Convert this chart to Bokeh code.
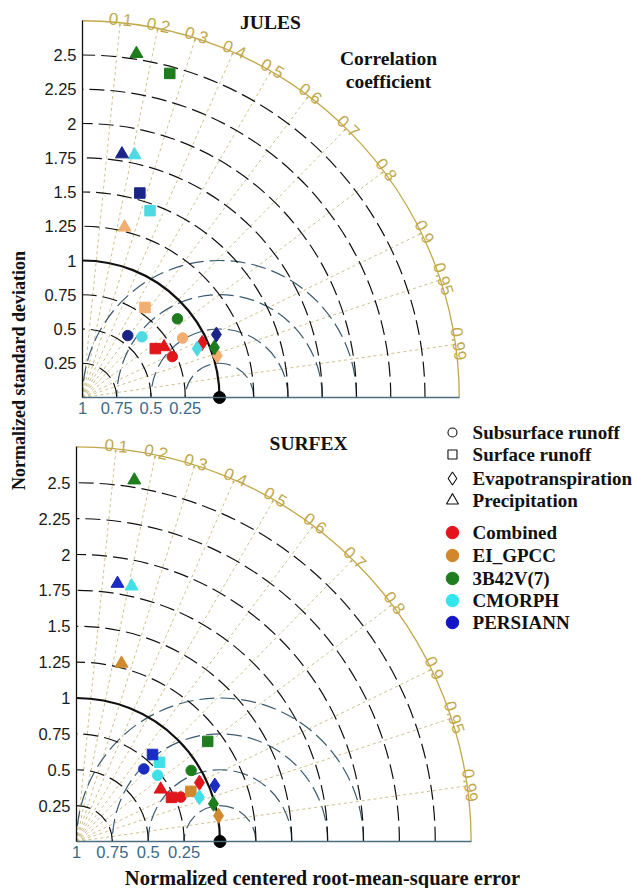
import numpy as np
from bokeh.plotting import figure
from bokeh.layouts import row, column
from bokeh.models import FixedTicker, Range1d, ColumnDataSource
from bokeh.core.properties import value
from bokeh.embed import file_html
from bokeh.resources import INLINE

# ---------------- data ----------------
datasets = ["Combined", "EI_GPCC", "3B42V(7)", "CMORPH", "PERSIANN"]
variables = ["Subsurface runoff", "Surface runoff", "Evapotranspiration", "Precipitation"]
var_markers = ["circle", "square", "diamond", "triangle"]

# JULES: normalized standard deviation and correlation, order = datasets
jules_std_subsurface = [0.72, 0.85, 0.90, 0.62, 0.56]
jules_cor_subsurface = [0.91, 0.86, 0.77, 0.70, 0.59]
jules_std_surface = [0.64, 0.80, 2.45, 1.45, 1.55]
jules_cor_surface = [0.83, 0.57, 0.26, 0.34, 0.27]
jules_std_evapo = [0.96, 1.03, 1.03, 0.91, 1.08]
jules_cor_evapo = [0.91, 0.955, 0.935, 0.92, 0.905]
jules_std_precip = [0.70, 1.28, 2.54, 1.81, 1.80]
jules_cor_precip = [0.85, 0.24, 0.155, 0.21, 0.16]

# SURFEX
surfex_std_subsurface = [0.79, float("nan"), 0.94, 0.73, 0.69]
surfex_cor_subsurface = [0.92, float("nan"), 0.85, 0.775, 0.68]
surfex_std_surface = [0.73, 0.87, 1.15, 0.80, 0.805]
surfex_cor_surface = [0.907, 0.916, 0.795, 0.724, 0.658]
surfex_std_evapo = [0.95, 1.006, 0.99, 0.91, 1.04]
surfex_cor_evapo = [0.902, 0.984, 0.964, 0.941, 0.927]
surfex_std_precip = [0.69, 1.28, 2.55, 1.82, 1.82]
surfex_cor_precip = [0.85, 0.245, 0.158, 0.211, 0.157]

ref_std = [1.0]
ref_cor = [1.0]

cor_ticks = [0.1, 0.2, 0.3, 0.4, 0.5, 0.6, 0.7, 0.8, 0.9, 0.95, 0.99]
cor_tick_labels = ["0.1", "0.2", "0.3", "0.4", "0.5", "0.6", "0.7", "0.8", "0.9", "0.95", "0.99"]
std_arcs = [0.25, 0.5, 0.75, 1.25, 1.5, 1.75, 2.0, 2.25, 2.5]
rms_arcs = [0.25, 0.5, 0.75, 1.0]
std_max = 2.75
y_tick_values = [0.25, 0.5, 0.75, 1.0, 1.25, 1.5, 1.75, 2.0, 2.25, 2.5]
y_tick_labels = ["0.25", "0.5", "0.75", "1", "1.25", "1.5", "1.75", "2", "2.25", "2.5"]
rms_tick_values = [0.0, 0.25, 0.5, 0.75]
rms_tick_labels = ["1", "0.75", "0.5", "0.25"]

jules_colors = ["#E0161B", "#F2AD70", "#1E7B1E", "#4FD9E3", "#1B2588"]
surfex_colors = ["#E0161B", "#D0892C", "#1E7E1E", "#40E0E8", "#1A2CC2"]
legend_colors = ["#E3141B", "#D4862A", "#1E7E1E", "#33E6EE", "#1515C8"]

KHAKI = "#C2A84C"
KHAKI_LINE = "#CFC08A"
RMS_COL = "#3B5B70"
SERIF = "Liberation Serif"
SANS = "Liberation Sans"


def make_fig(width, height, scale, ox, oy):
    p = figure(width=width, height=height,
               x_range=Range1d(-ox / scale, (width - ox) / scale),
               y_range=Range1d(-(height - oy) / scale, oy / scale),
               output_backend="svg", toolbar_location=None, min_border=0)
    p.grid.visible = False
    p.outline_line_color = None
    p.background_fill_color = "white"
    p.border_fill_color = "white"
    # axes at the origin
    p.xaxis.fixed_location = 0
    p.yaxis.fixed_location = 0
    p.xaxis.bounds = (0, std_max)
    p.yaxis.bounds = (0, std_max)
    p.yaxis.ticker = FixedTicker(ticks=y_tick_values)
    p.yaxis.major_label_overrides = dict(zip(y_tick_values, y_tick_labels))
    p.xaxis.ticker = FixedTicker(ticks=rms_tick_values)
    p.xaxis.major_label_overrides = dict(zip(rms_tick_values, rms_tick_labels))
    p.axis.minor_tick_line_color = None
    p.axis.major_tick_out = 0
    p.axis.major_tick_in = 0
    p.yaxis.axis_line_color = "#111111"
    p.yaxis.axis_line_width = 1.3
    p.xaxis.axis_line_color = "#4B6E80"
    p.xaxis.axis_line_width = 1.6
    p.yaxis.major_label_text_font = SANS
    p.yaxis.major_label_text_font_size = "16.5px"
    p.yaxis.major_label_text_color = "#1a1a1a"
    p.yaxis.major_label_standoff = 6
    p.xaxis.major_label_text_font = SANS
    p.xaxis.major_label_text_font_size = "16.5px"
    p.xaxis.major_label_text_color = "#3C6A86"
    p.xaxis.major_label_standoff = 4
    return p


def taylor(p, groups, colors):
    th = np.arccos(np.array(cor_ticks))
    # correlation rays
    p.segment(x0=0, y0=0, x1=std_max * np.cos(th), y1=std_max * np.sin(th),
              line_color=KHAKI_LINE, line_dash="3 3", line_width=1)
    # RMS-difference arcs around the reference
    p.arc(x=1.0, y=0.0, radius=rms_arcs, start_angle=0, end_angle=np.pi,
          line_color=RMS_COL, line_dash="15 6", line_width=1.2)
    # standard deviation arcs
    p.arc(x=0.0, y=0.0, radius=std_arcs, start_angle=0, end_angle=np.pi / 2,
          line_color="#111111", line_dash="15 6", line_width=1.2)
    p.arc(x=0.0, y=0.0, radius=ref_std, start_angle=0, end_angle=np.pi / 2,
          line_color="#111111", line_width=2.2)
    # outer boundary
    p.arc(x=0.0, y=0.0, radius=std_max, start_angle=0, end_angle=np.pi / 2,
          line_color=KHAKI, line_width=1.3)
    # correlation labels
    rl = std_max - 0.02
    p.text(x=rl * np.cos(th), y=rl * np.sin(th), text=cor_tick_labels,
           angle=th - np.pi / 2, text_align="center", text_baseline="bottom",
           text_font=value(SANS), text_font_size="17px", text_color=KHAKI)
    # data points
    sizes = {"circle": 10.5, "square": 10.5, "diamond": 15, "triangle": 13}
    for (stds, cors), mk in zip(groups, var_markers):
        s = np.array(stds, dtype=float)
        c = np.array(cors, dtype=float)
        src = ColumnDataSource(dict(x=s * c, y=s * np.sqrt(1 - c ** 2), color=colors))
        p.scatter("x", "y", source=src, marker=mk, size=sizes[mk],
                  fill_color="color", line_color="color", line_width=1)
    rs = np.array(ref_std)
    rc = np.array(ref_cor)
    p.scatter(x=rs * rc, y=rs * np.sqrt(1 - rc ** 2), size=12, marker="circle",
              fill_color="black", line_color="black")


BOLD_TXT = dict(text_font=value(SERIF), text_font_style="bold", text_color="#111111",
                text_baseline="middle")

# ---------------- top: JULES ----------------
S1 = 137.0
top = make_fig(600, 420, S1, 46, 397)
taylor(top, [(jules_std_subsurface, jules_cor_subsurface),
             (jules_std_surface, jules_cor_surface),
             (jules_std_evapo, jules_cor_evapo),
             (jules_std_precip, jules_cor_precip)], jules_colors)
top.text(x=[1.372], y=[2.737], text=["JULES"], text_align="center",
         text_font_size="19.5px", **BOLD_TXT)
top.text(x=[2.234, 2.234], y=[2.474, 2.307], text=["Correlation", "coefficient"],
         text_align="center", text_font_size="19.5px", **BOLD_TXT)

# ---------------- bottom: SURFEX ----------------
S2 = 143.5
bot = make_fig(600, 468, S2, 40, 421)
taylor(bot, [(surfex_std_subsurface, surfex_cor_subsurface),
             (surfex_std_surface, surfex_cor_surface),
             (surfex_std_evapo, surfex_cor_evapo),
             (surfex_std_precip, surfex_cor_precip)], surfex_colors)
bot.text(x=[1.617], y=[2.774], text=["SURFEX"], text_align="center",
         text_font_size="19.5px", **BOLD_TXT)
bot.text(x=[1.714], y=[-0.251], text=["Normalized centered root-mean-square error"],
         text_align="center", text_font_size="20.5px", **BOLD_TXT)

# legend (drawn in the SURFEX panel)
lx_m, lx_t = 2.62, 2.76
shape_rows = [2.85, 2.697, 2.53, 2.376]
color_rows = [2.153, 1.993, 1.833, 1.679, 1.526]
leg_sizes = {"circle": 9, "square": 9, "diamond": 13, "triangle": 12}
for yy, mk in zip(shape_rows, var_markers):
    bot.scatter(x=[lx_m], y=[yy], marker=mk, size=leg_sizes[mk], fill_color="white",
                line_color="#111111", line_width=1.1)
bot.text(x=[lx_t] * 4, y=shape_rows, text=variables, text_align="left",
         text_font_size="19px", **BOLD_TXT)
bot.scatter(x=[lx_m] * 5, y=color_rows, marker="circle", size=12.5, fill_color=legend_colors,
            line_color=legend_colors)
bot.text(x=[lx_t] * 5, y=color_rows, text=datasets, text_align="left",
         text_font_size="19px", **BOLD_TXT)

# ---------------- shared y label ----------------
lab = figure(width=36, height=888, x_range=Range1d(0, 36), y_range=Range1d(0, 888),
             output_backend="svg", toolbar_location=None, min_border=0,
             x_axis_type=None, y_axis_type=None)
lab.grid.visible = False
lab.outline_line_color = None
lab.text(x=[18], y=[888 - 370], text=["Normalized standard deviation"], angle=np.pi / 2,
         text_align="center", text_font_size="18px", **BOLD_TXT)

layout = row(lab, column(top, bot, spacing=0), spacing=0)
open("out.html", "w").write(file_html(layout, INLINE))
